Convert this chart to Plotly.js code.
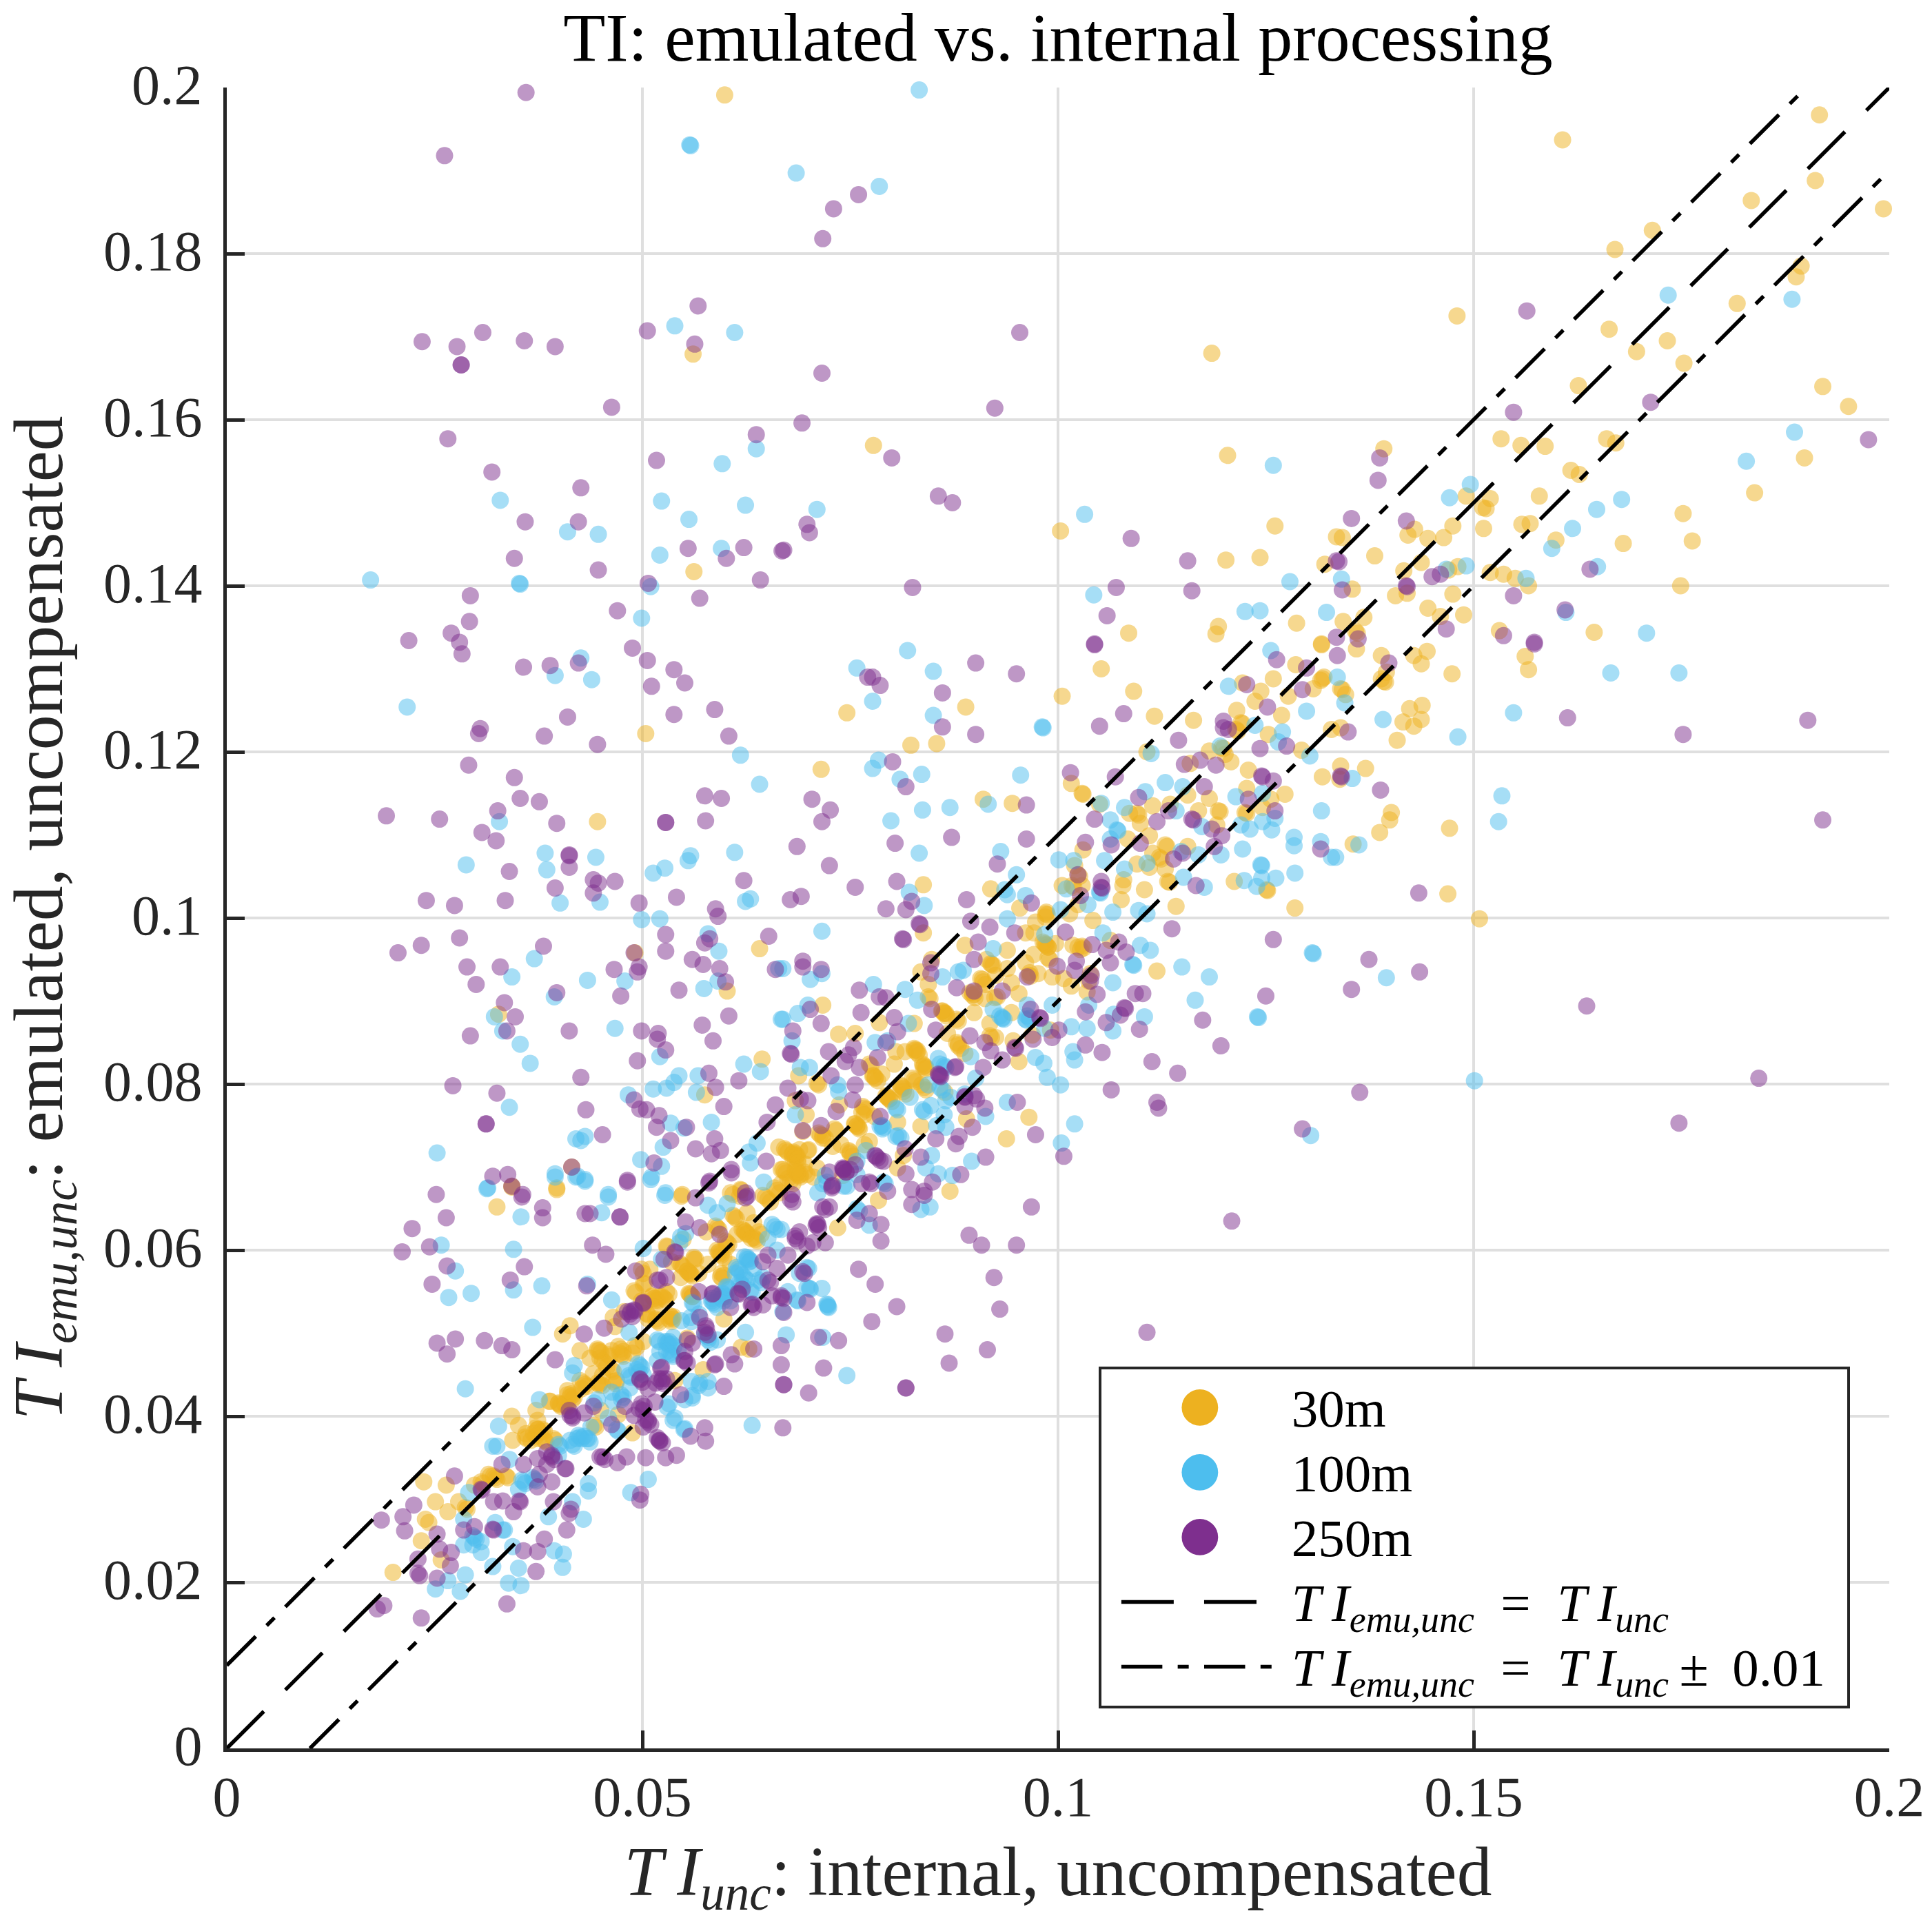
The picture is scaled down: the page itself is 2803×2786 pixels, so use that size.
<!DOCTYPE html>
<html>
<head>
<meta charset="utf-8">
<script src="https://cdn.plot.ly/plotly-3.0.1.min.js"></script>
<style>html,body{margin:0;padding:0;background:#fff}</style>
</head>
<body>
<div id="chart" style="width:2803px;height:2786px"></div>
<script>
const points30m = [
[.0599,.1991],[.0561,.1679],[.0562,.1417],[.0504,.1222],[.0446,.1116],[.0491,.0958],[.0641,.0963],[.0602,.0912],[.0327,.0884],[.0644,.0830],[.0575,.0787],[.0415,.0700],[.0343,.0677],[.0397,.0675],[.0548,.0667],[.0618,.0673],[.0606,.0669],[.0664,.0724],
[.1185,.1680],[.0778,.1569],[.1204,.1557],[.1003,.1466],[.1261,.1472],[.1202,.1431],[.1243,.1434],[.1321,.1426],[.1193,.1351],[.1190,.1342],[.1287,.1355],[.1085,.1343],[.1317,.1330],[.1335,.1459],
[.1607,.1937],[.1916,.1967],[.1911,.1888],[.1834,.1864],[.1993,.1854],[.1715,.1828],[.1670,.1805],[.1894,.1785],[.1888,.1772],[.1817,.1740],[.1480,.1725],[.1663,.1709],[.1733,.1695],[.1696,.1682],[.1753,.1668],[.1626,.1641],[.1920,.1640],[.1951,.1616],[.1533,.1577],[.1557,.1569],[.1586,.1568],[.1660,.1577],[.1671,.1572],[.1898,.1554],[.1617,.1539],[.1627,.1534],[.1392,.1565],[.1838,.1512],[.1579,.1508],[.1520,.1505],[.1491,.1508],[.1511,.1494],[.1515,.1493],[.1752,.1487],[.1558,.1474],[.1568,.1475],[.1475,.1472],[.1512,.1469],[.1763,.1454],[.1680,.1451],[.1599,.1455],[.1429,.1468],[.1421,.1461],[.1445,.1457],[.1464,.1458],[.1342,.1458],[.1381,.1436],[.1437,.1428],[.1416,.1418],[.1481,.1423],[.1470,.1419],[.1520,.1416],[.1536,.1414],[.1550,.1409],[.1566,.1400],[.1749,.1400],[.1354,.1396],[.1406,.1388],[.1420,.1391],[.1475,.1390],[.1445,.1373],[.1368,.1362],[.1343,.1357],[.1358,.1345],[.1360,.1343],[.1460,.1363],[.1488,.1365],[.1531,.1346],[.1645,.1344],
[.1359,.1324],[.1389,.1316],[.1428,.1316],[.1444,.1321],[.1437,.1306],[.1562,.1315],[.1566,.1299],[.1474,.1294],[.1395,.1296],[.1389,.1288],[.1392,.1285],[.1394,.1284],[.1340,.1276],[.1342,.1275],[.1346,.1269],[.1423,.1252],[.1438,.1256],[.1437,.1239],[.1415,.1236],[.1428,.1231],[.1408,.1214],[.1340,.1229],[.1340,.1183],[.1370,.1180],[.1339,.1167],[.1401,.1127],[.1399,.1118],[.1387,.1103],[.1471,.1108],[.1355,.1089],[.1469,.1029],[.1507,.0999],
[.1052,.1300],[.1091,.1273],[.1005,.1267],[.0746,.1247],[.0889,.1254],[.1116,.1243],[.1163,.1238],[.0823,.1208],[.0854,.1210],[.1317,.1329],[.1286,.1305],[.1318,.1288],[.1320,.1290],[.1316,.1286],[.1307,.1276],[.1259,.1288],[.1244,.1273],[.1222,.1283],[.1237,.1261],[.1277,.1267],[.1269,.1244],[.1215,.1250],[.1220,.1235],[.1222,.1234],[.1214,.1227],[.1216,.1225],[.1253,.1221],[.1197,.1205],[.1199,.1204],[.1182,.1201],[.1201,.1197],[.1208,.1188],[.1293,.1202],[.1159,.1186],[.1107,.1200],[.1229,.1178],[.1318,.1170],[.1329,.1227],[.0715,.1179],[.1016,.1162],[.1029,.1150],[.1030,.1149],[.0910,.1143],[.0945,.1138],[.1050,.1137],[.1156,.1148],[.1182,.1144],[.1227,.1156],[.1273,.1149],[.1256,.1143],[.1246,.1133],[.1225,.1127],[.1227,.1126],[.1193,.1129],[.1195,.1128],[.1169,.1129],[.1114,.1135],[.1135,.1137],[.1086,.1126],[.1095,.1126],[.1097,.1124],[.1099,.1114],[.1191,.1112],[.1110,.1099],[.1084,.1095],[.1030,.1082],[.1129,.1088],[.1131,.1086],[.1156,.1086],[.1114,.1078],[.1122,.1073],[.1124,.1071],[.1095,.1065],[.1110,.1061],[.1129,.1059],[.1132,.1044],[.1134,.1043],[.1212,.1044],[.1251,.1034],[.1252,.1033],[.1104,.1034],[.1079,.1046],[.1078,.1039],[.1076,.1022],[.1142,.1014],[.1285,.1012],[.1020,.1063],[.1024,.1052],[.1026,.1050],[.1005,.1039],[.1017,.1039],[.1019,.1037],[.1029,.1039],[.0838,.1040],[.0919,.1035],[.0954,.1012],[.0985,.1005],[.0987,.1004],[.0986,.1007],[.0973,.0995],[.1042,.0997],[.1014,.1005],[.1024,.1016],[.0838,.0982],[.0888,.0967],[.0939,.0961],[.0961,.0982],[.0971,.0982],[.0986,.0967],[.0988,.0965],[.0984,.0969],[.0997,.0969],[.1029,.0966],[.1031,.0964],[.1018,.0967],[.1063,.0973],[.1119,.0936],[.0971,.0956],[.0988,.0952],[.0990,.0950],[.0961,.0946],[.0920,.0944],[.0922,.0943],[.0939,.0939],[.0914,.0950],[.0965,.0931],[.0967,.0930],[.0976,.0933],[.0993,.0929],[.1007,.0927],[.1039,.0933],[.1016,.0918],[.1037,.0924],[.1035,.0911],[.0907,.0927],[.0909,.0926],[.0925,.0931],[.0944,.0922],[.0844,.0920],[.0835,.0935],[.0848,.0950],[.0844,.0905],[.0846,.0903],[.0897,.0910],[.0899,.0908],[.0912,.0903],[.0899,.0886],[.0927,.0905],[.0953,.0909],[.0944,.0886],[.0863,.0886],[.0865,.0885],[.0861,.0888],[.0878,.0878],[.0880,.0876],[.0717,.0895],[.0785,.0874],[.0827,.0873],[.0756,.0861],[.0736,.0860],[.0918,.0873],[.0918,.0858],[.0920,.0856],[.0829,.0841],[.0831,.0840],[.0827,.0843],[.0816,.0839],[.0805,.0839],[.0878,.0850],[.0880,.0848],[.0867,.0861],[.0925,.0856],[.0946,.0852],[.0969,.0859],[.0991,.0865],[.0888,.0837],[.0953,.0827],[.0839,.0822],[.0841,.0820],[.0837,.0824],[.0803,.0824],[.0773,.0824],[.0775,.0822],[.0778,.0810],[.0780,.0808],[.0788,.0812],[.0688,.0810],[.0710,.0801],[.0712,.0799],[.0827,.0805],[.0829,.0803],[.0825,.0807],[.0812,.0797],[.0814,.0795],[.0810,.0799],[.0795,.0784],[.0797,.0782],[.0793,.0786],[.0841,.0793],[.0864,.0790],[.0767,.0771],[.0769,.0769],[.0765,.0773],[.0758,.0750],[.0760,.0748],[.0756,.0752],[.0779,.0761],[.0737,.0775],[.0697,.0763],[.0684,.0780],[.0807,.0754],[.0835,.0749],[.0890,.0758],[.0965,.0760],[.0938,.0734],[.0731,.0746],[.0733,.0744],[.0712,.0741],[.0714,.0739],[.0693,.0743],[.0773,.0731],[.0748,.0720],[.0750,.0718],[.0729,.0725],[.0699,.0720],[.0684,.0716],[.0686,.0714],[.0682,.0718],[.0680,.0715],[.0673,.0720],[.0675,.0718],[.0671,.0722],[.0695,.0704],[.0671,.0695],[.0673,.0693],[.0669,.0697],[.0688,.0690],[.0690,.0688],[.0686,.0692],[.0807,.0699],[.0814,.0714],[.0870,.0671],[.0741,.0690],[.0710,.0699],
[.0735,.0627],[.0784,.0660],
[.0200,.0212],[.0234,.0250],[.0237,.0321],[.0264,.0317],[.0251,.0297],[.0266,.0285],[.0239,.0276],[.0243,.0272],[.0279,.0297],[.0287,.0290],[.0289,.0288],[.0258,.0227],[.0325,.0652],[.0343,.0676],[.0397,.0673],[.0404,.0499],[.0413,.0509],[.0465,.0519],[.0478,.0526],[.0467,.0508],[.0408,.0413],[.0410,.0411],[.0406,.0415],[.0399,.0416],[.0401,.0414],[.0416,.0425],[.0418,.0423],[.0414,.0427],[.0389,.0418],[.0372,.0407],[.0343,.0400],[.0351,.0389],[.0359,.0375],[.0361,.0373],[.0344,.0371],[.0372,.0386],[.0374,.0384],[.0380,.0384],[.0382,.0382],[.0382,.0371],[.0384,.0369],[.0393,.0373],[.0395,.0371],[.0315,.0330],[.0317,.0328],[.0323,.0326],[.0325,.0324],[.0321,.0328],[.0336,.0328],[.0338,.0326],[.0306,.0321],[.0308,.0319],[.0298,.0317],[.0425,.0479],[.0437,.0470],[.0448,.0479],[.0450,.0477],[.0446,.0481],[.0459,.0474],[.0461,.0472],[.0475,.0474],[.0477,.0472],[.0473,.0476],[.0491,.0485],[.0493,.0483],[.0501,.0490],[.0463,.0456],[.0465,.0454],[.0452,.0449],[.0446,.0440],[.0448,.0438],[.0431,.0438],[.0433,.0436],[.0429,.0440],[.0425,.0443],[.0469,.0443],[.0501,.0537],[.0503,.0535],[.0499,.0539],[.0514,.0542],[.0516,.0540],[.0512,.0544],[.0526,.0542],[.0528,.0540],[.0524,.0544],[.0535,.0519],[.0537,.0517],[.0533,.0521],[.0518,.0515],[.0520,.0513],[.0516,.0517],[.0505,.0524],[.0507,.0522],[.0490,.0551],[.0492,.0549],[.0503,.0560],[.0558,.0546],[.0560,.0544],[.0556,.0548],[.0556,.0573],[.0558,.0571],[.0554,.0575],[.0562,.0591],[.0564,.0589],[.0547,.0582],[.0549,.0580],[.0545,.0584],[.0535,.0586],[.0509,.0577],[.0499,.0577],[.0530,.0604],[.0592,.0598],[.0594,.0596],[.0590,.0600],[.0602,.0609],[.0604,.0607],[.0600,.0611],[.0611,.0640],[.0613,.0638],[.0609,.0642],[.0619,.0672],[.0609,.0667],[.0624,.0622],[.0626,.0620],[.0622,.0624],[.0636,.0613],[.0638,.0611],[.0634,.0615],[.0590,.0627],[.0592,.0625],[.0588,.0629],[.0577,.0622],[.0547,.0665],[.0617,.0665],[.0549,.0613],[.0594,.0568],[.0596,.0566],[.0626,.0645],[.0573,.0456],[.0628,.0481],[.0619,.0483],[.0488,.0380],[.0442,.0389],[.0444,.0387],[.0450,.0407],[.0471,.0402],[.0539,.0443],[.0598,.0517],[.0554,.0494],
[.0557,.0572],[.0560,.0569],[.0554,.0575],[.0595,.0594],[.0598,.0591],[.0592,.0597],[.0595,.0572],[.0598,.0570],[.0557,.0547],[.0560,.0544],[.0623,.0622],[.0626,.0619],[.0620,.0625],[.0640,.0622],[.0643,.0619],[.0634,.0633],[.0651,.0661],[.0654,.0658],[.0648,.0664],[.0662,.0672],[.0665,.0669],[.0659,.0675],[.0678,.0683],[.0681,.0680],[.0675,.0686],[.0684,.0708],[.0687,.0705],[.0681,.0711],[.0695,.0694],[.0698,.0691],[.0700,.0721],[.0750,.0716],[.0753,.0713],[.0767,.0727],[.0515,.0542],[.0518,.0539],[.0512,.0545],[.0529,.0550],[.0532,.0547],[.0507,.0517],[.0532,.0517],[.0535,.0514],[.0474,.0481],[.0477,.0478],[.0471,.0484],[.0452,.0467],[.0455,.0464],[.0449,.0470],[.0449,.0440],[.0452,.0437],[.0465,.0442],[.0468,.0439],[.0413,.0423],[.0416,.0420],[.0410,.0426],[.0399,.0415],[.0402,.0412],[.0374,.0384],[.0377,.0381],[.0372,.0376],[.0375,.0373],[.0369,.0379],[.0501,.0572],[.0501,.0559],
[.0814,.0791],[.0817,.0788],[.0811,.0794],[.0797,.0782],[.0800,.0779],[.0794,.0785],[.0836,.0799],[.0839,.0796],[.0830,.0838],[.0833,.0835],[.0827,.0841],[.0838,.0821],[.0841,.0818],[.0780,.0807],[.0783,.0804],[.0777,.0810],[.0758,.0749],[.0761,.0746],[.0755,.0752],[.0764,.0766],[.0767,.0763],[.0717,.0738],[.0720,.0735],[.0684,.0713],[.0687,.0710],[.0681,.0716],[.0687,.0694],[.0690,.0691],[.0684,.0697],[.0880,.0846],[.0883,.0843],[.0863,.0885],[.0866,.0882],[.0860,.0888],[.0897,.0907],[.0900,.0904],[.0894,.0910],[.0919,.0945],[.0910,.0923],[.0913,.0920],[.0985,.0968],[.0988,.0965],[.0982,.0971],[.1024,.0965],[.1027,.0962],[.0966,.0934],[.0924,.0904],[.0985,.1001],
[.0515,.0531],[.0521,.0544],[.0537,.0520],[.0546,.0567],[.0568,.0572],[.0562,.0589],[.0579,.0583],[.0601,.0603],[.0606,.0583],[.0614,.0619],[.0631,.0614],[.0645,.0666],[.0667,.0680],[.0684,.0694],[.0667,.0697],[.0689,.0721],[.0706,.0688],[.0739,.0727],[.0717,.0735],[.0488,.0476],[.0463,.0479],[.0446,.0479],[.0457,.0459],[.0441,.0451],[.0427,.0433],[.0410,.0431],[.0388,.0418],[.0366,.0371],[.0360,.0379],[.0374,.0395],[.0529,.0605]
];
const points100m = [
[.0557,.1931],[.0558,.1930],[.0539,.1713],[.0611,.1705],[.0596,.1547],[.0637,.1565],[.0329,.1503],[.0523,.1502],[.0624,.1497],[.0556,.1480],[.0410,.1465],[.0447,.1462],[.0521,.1437],[.0595,.1445],[.0173,.1407],[.0352,.1403],[.0353,.1402],[.0510,.1399],[.0499,.1361],
[.0426,.1313],[.0395,.1292],[.0439,.1287],[.0217,.1254],[.0641,.1161],[.0618,.1196],[.0328,.1116],[.0383,.1078],[.0444,.1073],[.0558,.1075],[.0555,.1069],[.0611,.1079],[.0288,.1064],[.0385,.1058],[.0527,.1060],[.0513,.1054],[.0401,.1018],[.0449,.1019],[.0624,.1020],[.0630,.1023],[.0499,.0998],[.0521,.0999],[.0579,.0981],[.0592,.0960],[.0370,.0951],[.0343,.0929],[.0434,.0925],[.0479,.0924],[.0591,.0924],[.0574,.0915],[.0664,.0939],[.0394,.0905],[.0322,.0881],[.0332,.0864],[.0467,.0867],[.0353,.0848],[.0365,.0825],[.0521,.0833],[.0622,.0824],[.0642,.0815],[.0667,.0878],[.0544,.0810],[.0567,.0810],[.0513,.0794],[.0529,.0795],[.0538,.0802],[.0565,.0790],[.0483,.0787],[.0340,.0772],[.0534,.0753],[.0583,.0754],[.0550,.0747],[.0431,.0737],[.0420,.0734],[.0426,.0732],[.0525,.0724],[.0638,.0729],[.0253,.0717],[.0498,.0709],[.0628,.0718],[.0630,.0705],[.0523,.0701],[.0395,.0692],[.0422,.0689],[.0431,.0685],[.0511,.0688],[.0314,.0675],[.0459,.0667],[.0528,.0669],[.0646,.0682],
[.0313,.0674],[.0395,.0688],[.0431,.0683],[.0420,.0688],[.0459,.0664],[.0354,.0640],[.0451,.0645],[.0258,.0606],[.0345,.0601],[.0275,.0575],[.0379,.0557],[.0267,.0543],[.0294,.0548],[.0345,.0552],[.0434,.0559],[.0463,.0540],[.0527,.0666],[.0510,.0685],[.0501,.0602],[.0368,.0507],[.0287,.0433],[.0376,.0420],[.0327,.0388],[.0320,.0364],[.0632,.0389],[.0507,.0324],[.0486,.0308],[.0435,.0319],[.0435,.0310],[.0429,.0276],[.0416,.0297],[.0387,.0279],[.0405,.0234],[.0394,.0238],[.0404,.0218],[.0351,.0217],[.0320,.0219],[.0339,.0199],[.0354,.0196],[.0287,.0209],[.0266,.0202],[.0251,.0192],[.0281,.0189],[.0344,.0243],[.0306,.0236],[.0296,.0245],[.0285,.0245],[.0334,.0263],[.0550,.0384],[.0539,.0398],[.0579,.0434],[.0569,.0440],[.0560,.0422],[.0530,.0411],
[.0530,.0488],[.0532,.0486],[.0528,.0490],[.0535,.0474],[.0537,.0472],[.0533,.0476],[.0518,.0492],[.0520,.0490],[.0497,.0461],[.0499,.0459],[.0495,.0463],[.0484,.0449],[.0486,.0447],[.0475,.0420],[.0463,.0429],[.0442,.0416],[.0459,.0398],[.0469,.0384],[.0471,.0382],[.0425,.0375],[.0427,.0373],[.0423,.0377],[.0416,.0366],[.0418,.0364],[.0437,.0369],[.0399,.0366],[.0401,.0364],[.0370,.0324],[.0372,.0322],[.0368,.0326],[.0357,.0321],[.0359,.0319],[.0355,.0323],[.0351,.0312],[.0399,.0353],[.0340,.0348],[.0325,.0364],[.0291,.0308],[.0285,.0276],[.0298,.0254],[.0300,.0252],[.0296,.0256],[.0306,.0249],[.0332,.0263],[.0323,.0272],[.0484,.0501],[.0418,.0461],[.0416,.0452],[.0543,.0479],[.0560,.0425],[.0577,.0497],[.0579,.0495],[.0575,.0499],[.0590,.0492],[.0585,.0537],[.0587,.0535],[.0583,.0539],[.0598,.0546],[.0600,.0544],[.0596,.0548],[.0615,.0577],[.0617,.0575],[.0613,.0579],[.0628,.0589],[.0630,.0587],[.0626,.0591],[.0602,.0555],[.0604,.0553],[.0619,.0559],[.0621,.0557],[.0617,.0561],[.0630,.0551],[.0632,.0549],[.0590,.0645],[.0602,.0656],[.0545,.0609],[.0552,.0620],[.0624,.0501],[.0579,.0654],[.0560,.0537],[.0562,.0535],[.0547,.0515],[.0558,.0519],
[.0819,.1322],[.0758,.1301],[.0850,.1297],[.0777,.1261],[.0850,.1244],[.0981,.1230],[.0982,.1229],[.1256,.1322],[.1205,.1279],[.1299,.1249],[.1237,.1232],[.1270,.1224],[.1265,.1212],[.1195,.1207],[.1112,.1198],[.1303,.1195],[.0784,.1190],[.0777,.1180],[.0836,.1173],[.0810,.1167],[.0955,.1172],[.1129,.1163],[.1150,.1158],[.1105,.1152],[.0916,.1137],[.0837,.1130],[.0870,.1133],[.0799,.1117],[.1052,.1138],[.1080,.1133],[.1063,.1118],[.1071,.1106],[.1072,.1105],[.1063,.1095],[.1246,.1150],[.1214,.1146],[.1317,.1129],[.1261,.1120],[.1246,.1116],[.1231,.1107],[.1257,.1106],[.1220,.1112],[.1173,.1110],[.1142,.1129],[.1284,.1097],[.1284,.1087],[.1316,.1092],[.1222,.1083],[.1196,.1076],[.1169,.1076],[.1148,.1080],[.1329,.1073],[.1244,.1064],[.1245,.1063],[.1285,.1054],[.1262,.1048],[.1239,.1038],[.1245,.1048],[.1224,.1045],[.1176,.1037],[.1151,.1049],[.1080,.1059],[.1107,.1066],[.1056,.1069],[.1019,.1069],[.1001,.1070],[.0833,.1078],[.0931,.1080],[.0939,.1028],[.0936,.1034],[.0950,.1052],[.0961,.1027],[.0821,.1031],[.0839,.1015],[.0716,.0984],[.1010,.1035],[.1003,.1010],[.1050,.1031],[.1051,.1030],[.1036,.1016],[.1066,.1007],[.1097,.1009],[.1107,.1005],[.0939,.0999],[.0984,.0980],[.1054,.0982],[.0922,.0963],[.1099,.0967],[.1111,.0961],[.1090,.0944],[.1091,.0943],[.1149,.0941],[.1182,.0929],[.1066,.0922],[.1165,.0901],[.1306,.0958],[.1307,.0957],[.1240,.0881],[.1241,.0880],[.1104,.0881],[.1067,.0884],[.1037,.0895],[.0993,.0895],[.0963,.0895],[.0961,.0878],[.0962,.0877],[.0933,.0880],[.0935,.0878],[.0922,.0890],[.1016,.0869],[.1035,.0867],[.1066,.0864],[.0984,.0867],[.1018,.0839],[.1020,.0829],[.0973,.0832],[.0983,.0825],[.0987,.0808],[.1003,.0799],[.0901,.0807],[.0939,.0778],[.0913,.0761],[.1020,.0752],[.1004,.0729],[.1304,.0738],[.0896,.0707],[.0856,.0692],[.0873,.0690],[.0865,.0748],[.0854,.0750],[.0816,.0914],[.0778,.0920],[.0861,.0929],[.0880,.0935],[.0886,.0937],[.0716,.0933],[.0702,.0926],[.0699,.0895],[.0687,.0885],[.0669,.0939],[.0669,.0878],[.0680,.0852],[.0690,.0820],[.0701,.0820],[.0780,.0850],[.0795,.0852],[.0820,.0873],[.0831,.0901],[.0856,.0831],[.0863,.0822],[.0865,.0820],[.0895,.0833],[.0844,.0799],[.0837,.0769],[.0839,.0767],[.0822,.0784],[.0805,.0771],[.0807,.0769],[.0788,.0750],[.0790,.0748],[.0805,.0737],[.0769,.0720],[.0758,.0707],[.0735,.0799],[.0684,.0763],[.0720,.0690],[.0746,.0677],[.0790,.0682],[.0792,.0680],[.0848,.0714],[.0841,.0699],[.0722,.0682],[.0871,.0784],[.0888,.0788],[.0865,.0780],[.0863,.0763],
[.0833,.1997],[.0685,.1897],[.0785,.1881],[.0710,.1492],[.1032,.1486],[.1259,.1545],[.1043,.1389],[.1279,.1405],[.1225,.1369],[.1243,.1370],[.1323,.1368],
[.1734,.1750],[.1883,.1745],[.1886,.1585],[.1828,.1550],[.1496,.1522],[.1471,.1506],[.1678,.1504],[.1648,.1492],[.1619,.1469],[.1594,.1445],[.1649,.1423],[.1467,.1420],[.1491,.1424],[.1563,.1409],[.1341,.1408],[.1611,.1368],[.1708,.1343],
[.1336,.1290],[.1345,.1259],[.1391,.1239],[.1481,.1218],[.1548,.1247],[.1665,.1295],[.1747,.1295],[.1354,.1168],[.1534,.1147],[.1530,.1116],[.1362,.1088],[.1334,.1073],[.1395,.0928],[.1501,.0804],
[.0846,.0652],[.0835,.0649],[.0722,.0535],[.0723,.0534],[.0717,.0495],[.0746,.0449],[.0716,.0554],[.0701,.0554],[.0702,.0553],[.0686,.0540],[.0673,.0498],[.0669,.0526],[.0773,.0630],[.0698,.0579],
[.0626,.0589],[.0629,.0586],[.0623,.0592],[.0623,.0567],[.0626,.0564],[.0620,.0570],[.0595,.0542],[.0598,.0539],[.0592,.0545],[.0659,.0628],[.0662,.0625],[.0656,.0631],[.0640,.0564],[.0643,.0561],[.0535,.0487],[.0538,.0484],[.0532,.0490],[.0521,.0478],[.0493,.0456],[.0496,.0453],[.0559,.0514],[.0579,.0492],[.0582,.0489],[.0687,.0539],[.0723,.0532],[.0724,.0531],[.0559,.0442],[.0579,.0442],[.0474,.0426],[.0477,.0423],[.0446,.0420],[.0430,.0376],[.0433,.0373],[.0413,.0371],[.0758,.0650],[.0761,.0647],[.0711,.0669],
[.0858,.0824],[.0858,.0796],[.0861,.0793],[.0847,.0774],[.0808,.0738],[.0811,.0735],[.0786,.0749],[.0789,.0746],[.0736,.0791],[.0930,.0882],[.0933,.0879],[.0963,.0882],[.0966,.0879],
[.0645,.0567],[.0612,.0572],[.0601,.0556],[.0634,.0578],[.0651,.0614],[.0667,.0625],[.0662,.0600],[.0584,.0542],[.0590,.0531],[.0606,.0539],[.0568,.0523],[.0537,.0495],[.0529,.0478],[.0518,.0467],[.0479,.0456],[.0501,.0450],[.0485,.0434],[.0465,.0418],[.0438,.0387],[.0421,.0373],[.0435,.0373],[.0568,.0437],[.0551,.0420],[.0532,.0415],[.0537,.0395],[.0551,.0385],[.0675,.0550],[.0698,.0555],[.0689,.0572],[.0700,.0578],[.0717,.0680],[.0742,.0677],[.0758,.0691],[.0546,.0616],[.0523,.0589]
];
const points250m = [
[.0360,.1994],[.0262,.1918],[.0235,.1694],[.0277,.1688],[.0282,.1666],[.0282,.1666],[.0308,.1705],[.0358,.1695],[.0395,.1688],[.0506,.1707],[.0567,.1737],[.0563,.1691],[.0463,.1615],[.0266,.1577],[.0637,.1582],[.0517,.1551],[.0319,.1537],[.0426,.1518],[.0359,.1477],[.0423,.1477],[.0346,.1433],[.0447,.1419],[.0555,.1445],[.0601,.1433],[.0622,.1446],[.0668,.1442],[.0507,.1403],[.0642,.1407],[.0293,.1388],[.0292,.1357],[.0270,.1343],[.0219,.1334],[.0280,.1332],[.0470,.1370],[.0569,.1385],[.0488,.1325],
[.0283,.1318],[.0357,.1302],[.0389,.1304],[.0423,.1307],[.0506,.1310],[.0538,.1299],[.0551,.1283],[.0511,.1279],[.0410,.1242],[.0587,.1251],[.0538,.1245],[.0604,.1219],[.0305,.1228],[.0303,.1222],[.0382,.1219],[.0446,.1209],[.0291,.1184],[.0346,.1169],[.0353,.1144],[.0376,.1140],[.0326,.1129],[.0192,.1123],[.0256,.1119],[.0397,.1114],[.0528,.1115],[.0528,.1115],[.0575,.1147],[.0595,.1144],[.0576,.1117],[.0307,.1103],[.0324,.1093],[.0412,.1076],[.0412,.1075],[.0412,.1061],[.0340,.1056],[.0441,.1046],[.0447,.1042],[.0467,.1044],[.0395,.1036],[.0441,.1030],[.0541,.1025],[.0622,.1045],[.0240,.1021],[.0274,.1015],[.0335,.1021],[.0496,.1018],[.0588,.1011],[.0591,.1002],[.0280,.0976],[.0234,.0967],[.0206,.0958],[.0381,.0966],[.0528,.0980],[.0528,.0960],[.0575,.0970],[.0581,.0975],[.0652,.0978],[.0289,.0941],[.0329,.0941],[.0466,.0938],[.0490,.0958],[.0496,.0941],[.0494,.0935],[.0560,.0950],[.0573,.0944],[.0593,.0939],[.0600,.0923],[.0660,.0938],[.0300,.0920],[.0544,.0913],[.0397,.0910],[.0474,.0906],[.0334,.0898],[.0347,.0881],[.0604,.0882],[.0572,.0871],[.0337,.0864],[.0293,.0858],[.0412,.0864],[.0499,.0864],[.0519,.0861],[.0518,.0854],[.0528,.0841],[.0585,.0852],[.0494,.0828],[.0426,.0808],[.0580,.0813],[.0616,.0804],[.0588,.0796],[.0272,.0798],[.0325,.0789],[.0490,.0781],[.0432,.0769],[.0497,.0770],[.0505,.0769],[.0520,.0762],[.0598,.0773],[.0660,.0775],[.0312,.0752],[.0312,.0752],[.0517,.0748],[.0553,.0748],[.0452,.0739],[.0534,.0732],[.0587,.0734],[.0564,.0722],[.0583,.0716],[.0594,.0720],[.0650,.0754],[.0514,.0705],[.0649,.0707],[.0607,.0697],[.0320,.0689],[.0338,.0691],[.0482,.0684],[.0581,.0683],[.0252,.0667],[.0356,.0667],[.0624,.0669],[.0415,.0700],[.0343,.0677],
[.0264,.0639],[.0223,.0626],[.0211,.0598],[.0244,.0604],[.0265,.0581],[.0247,.0559],[.0358,.0580],[.0341,.0564],[.0355,.0664],[.0380,.0651],[.0380,.0639],[.0482,.0682],[.0431,.0644],[.0437,.0644],[.0473,.0640],[.0473,.0640],[.0440,.0606],[.0456,.0595],[.0433,.0557],[.0430,.0499],[.0253,.0488],[.0275,.0493],[.0265,.0475],[.0310,.0491],[.0331,.0485],[.0343,.0480],[.0395,.0468],[.0454,.0506],[.0274,.0328],[.0225,.0293],[.0212,.0279],[.0186,.0275],[.0214,.0262],[.0253,.0258],[.0230,.0228],[.0230,.0211],[.0232,.0208],[.0253,.0205],[.0270,.0236],[.0269,.0220],[.0256,.0240],[.0181,.0168],[.0189,.0172],[.0234,.0157],[.0337,.0174],[.0357,.0238],[.0372,.0213],[.0374,.0237],[.0382,.0252],[.0409,.0263],[.0498,.0306],[.0497,.0299],[.0470,.0344],[.0481,.0351],[.0504,.0350],[.0528,.0350],[.0541,.0353],[.0558,.0376],[.0575,.0386],[.0576,.0370],[.0598,.0436],[.0611,.0463],[.0607,.0474],[.0634,.0481],[.0520,.0371],[.0521,.0370],[.0507,.0395],[.0449,.0351],[.0321,.0297],[.0352,.0298],[.0353,.0297],[.0345,.0285],[.0332,.0298],[.0320,.0264],[.0321,.0263],[.0298,.0267],[.0285,.0263],[.0306,.0312],[.0307,.0311],[.0331,.0342],[.0357,.0342],[.0376,.0330],[.0374,.0315],[.0391,.0321],[.0385,.0342],[.0391,.0353],[.0408,.0337],[.0393,.0297],[.0414,.0288],[.0412,.0283],[.0416,.0400],[.0412,.0407],[.0486,.0526],[.0475,.0517],[.0496,.0409],[.0501,.0407],[.0550,.0467],[.0522,.0458],[.0516,.0440],[.0524,.0445],[.0497,.0445],[.0552,.0634],[.0569,.0627],[.0564,.0663],[.0580,.0681],[.0607,.0693],[.0501,.0537],[.0632,.0535],[.0626,.0665],[.0575,.0501],[.0588,.0463],[.0539,.0598],[.0585,.0548],[.0569,.0519],[.0577,.0506],[.0615,.0548],[.0616,.0547],[.0490,.0528],[.0491,.0527],[.0518,.0564],[.0492,.0575],[.0560,.0488],
[.0901,.1307],[.0950,.1294],[.0771,.1290],[.0777,.1290],[.0786,.1280],[.0861,.1271],[.1044,.1329],[.0861,.1230],[.0901,.1221],[.1079,.1246],[.1050,.1231],[.1145,.1214],[.0801,.1188],[.1263,.1311],[.1299,.1301],[.1227,.1281],[.1252,.1254],[.1294,.1275],[.1199,.1237],[.1199,.1229],[.1205,.1227],[.1243,.1204],[.1275,.1207],[.1152,.1185],[.1171,.1190],[.1190,.1184],[.1015,.1175],[.1069,.1170],[.1245,.1171],[.1246,.1170],[.1259,.1165],[.1176,.1158],[.1097,.1145],[.1229,.1143],[.0817,.1158],[.0704,.1143],[.0726,.1130],[.0716,.1116],[.0962,.1136],[.0872,.1097],[.0804,.1090],[.0686,.1086],[.0725,.1063],[.0962,.1095],[.0927,.1065],[.1044,.1119],[.1033,.1091],[.1064,.1088],[.1099,.1090],[.1119,.1116],[.1133,.1129],[.1161,.1119],[.1163,.1118],[.1185,.1107],[.1197,.1099],[.1261,.1129],[.1188,.1086],[.1150,.1078],[.1139,.1071],[.1166,.1039],[.1316,.1083],[.0756,.1037],[.0806,.1044],[.0678,.1022],[.0691,.1026],[.0824,.1020],[.0793,.1011],[.0817,.1010],[.0890,.1022],[.0968,.1018],[.1052,.1044],[.1052,.1037],[.1053,.1036],[.1027,.1027],[.1024,.1052],[.0895,.0996],[.0918,.0989],[.0833,.0993],[.0834,.0992],[.0813,.0975],[.0814,.0974],[.0948,.0982],[.1009,.0983],[.0904,.0971],[.0899,.0950],[.1041,.0968],[.1073,.0971],[.1082,.0959],[.1058,.0961],[.1063,.0946],[.1022,.0948],[.1020,.0937],[.0999,.0942],[.1040,.0931],[.1039,.0924],[.1047,.0908],[.1093,.0909],[.1102,.0909],[.1137,.0987],[.1259,.0974],[.1250,.0906],[.1174,.0877],[.1098,.0866],[.1075,.0883],[.1080,.0892],[.1081,.0891],[.1058,.0874],[.1033,.0887],[.1033,.0847],[.1053,.0838],[.1113,.0827],[.1144,.0813],[.1196,.0846],[.1064,.0793],[.1119,.0778],[.1121,.0771],[.1294,.0746],[.0973,.0739],[.1007,.0713],[.0951,.0778],[.0897,.0748],[.0881,.0737],[.0877,.0728],[.0853,.0734],[.0913,.0712],[.0883,.0691],[.0849,.0682],[.0839,.0671],[.0824,.0673],[.0835,.0712],[.0817,.0692],[.0816,.0722],[.0693,.0948],[.0693,.0941],[.0715,.0938],[.0702,.0890],[.0715,.0873],[.0761,.0913],[.0785,.0905],[.0793,.0904],[.0763,.0886],[.0803,.0880],[.0878,.0916],[.0847,.0933],[.0847,.0946],[.0848,.0890],[.0899,.0912],[.0933,.0912],[.0963,.0929],[.0967,.0890],[.0978,.0880],[.0979,.0879],[.1001,.0865],[.0993,.0856],[.0970,.0854],[.0948,.0844],[.0949,.0843],[.0933,.0829],[.0910,.0820],[.0912,.0850],[.0919,.0840],[.0894,.0858],[.0853,.0865],[.0807,.0863],[.0793,.0850],[.0783,.0832],[.0761,.0820],[.0754,.0844],[.0748,.0835],[.0744,.0827],[.0724,.0839],[.0681,.0864],[.0678,.0837],[.0679,.0836],[.0727,.0810],[.0756,.0799],[.0753,.0781],[.0733,.0767],[.0675,.0795],[.0699,.0780],[.0690,.0782],[.0715,.0750],[.0693,.0744],[.0856,.0812],[.0857,.0811],[.0876,.0820],[.0888,.0784],[.0899,.0786],[.0888,.0773],[.0912,.0771],[.0780,.0714],[.0781,.0713],[.0790,.0707],[.0741,.0699],[.0742,.0698],[.0729,.0678],[.0756,.0703],[.0773,.0682],[.0795,.0671],[.0786,.0761],[.0680,.0667],
[.0760,.1871],[.0730,.1854],[.0717,.1818],[.0954,.1705],[.0716,.1656],[.0692,.1596],[.0924,.1614],[.0800,.1554],[.0856,.1508],[.0873,.1500],[.0698,.1474],[.0701,.1464],[.0670,.1443],[.0825,.1398],[.1088,.1457],[.1070,.1398],[.1156,.1430],[.1161,.1394],[.1059,.1364],[.1044,.1330],[.1335,.1430],[.1335,.1338],
[.1564,.1731],[.1548,.1609],[.1713,.1621],[.1387,.1554],[.1385,.1527],[.1353,.1481],[.1419,.1478],[.1338,.1429],[.1450,.1411],[.1460,.1414],[.1419,.1400],[.1420,.1399],[.1342,.1395],[.1975,.1576],[.1640,.1420],[.1548,.1388],[.1610,.1371],[.1467,.1348],[.1536,.1340],[.1573,.1332],[.1361,.1336],
[.1398,.1307],[.1573,.1330],[.1336,.1316],[.1349,.1224],[.1613,.1241],[.1752,.1221],[.1902,.1238],[.1340,.1171],[.1341,.1170],[.1388,.1154],[.1920,.1118],[.1434,.1030],[.1374,.0950],[.1435,.0935],[.1353,.0914],[.1636,.0894],[.1843,.0807],[.1363,.0790],[.1747,.0753],
[.0968,.0652],[.1209,.0635],[.0893,.0618],[.0908,.0606],[.0950,.0606],[.0787,.0611],[.0787,.0631],[.0773,.0644],[.0758,.0636],[.0760,.0577],[.0780,.0559],[.0923,.0567],[.0806,.0532],[.0930,.0529],[.0776,.0514],[.1107,.0501],[.0864,.0499],[.0712,.0495],[.0736,.0491],[.0915,.0480],[.0869,.0464],[.0718,.0458],[.0817,.0434],[.0817,.0434],[.0700,.0428],[.0670,.0438],[.0670,.0438],[.0669,.0386],[.0698,.0537],[.0720,.0609],[.0824,.0655],[.0839,.0666],[.0710,.0632],[.0711,.0631],[.0705,.0609],[.0684,.0617],[.0693,.0574],[.0667,.0485],[.0667,.0462],[.0667,.0543],
[.0678,.0661],[.0681,.0658],[.0717,.0652],[.0720,.0649],[.0742,.0697],[.0745,.0694],[.0728,.0675],[.0709,.0630],[.0712,.0627],[.0684,.0614],[.0687,.0611],[.0645,.0586],[.0651,.0564],[.0654,.0561],[.0667,.0545],[.0670,.0542],[.0631,.0534],[.0634,.0531],[.0670,.0525],[.0576,.0509],[.0554,.0492],[.0523,.0459],[.0523,.0442],[.0526,.0439],[.0520,.0445],[.0497,.0444],[.0500,.0441],[.0551,.0467],[.0554,.0464],[.0587,.0462],[.0499,.0415],[.0502,.0412],[.0507,.0393],[.0510,.0390],[.0504,.0396],[.0521,.0371],[.0524,.0368],[.0518,.0374],[.0485,.0523],[.0488,.0520],[.0482,.0526],[.0501,.0536],[.0540,.0597],[.0521,.0564],[.0413,.0401],[.0416,.0398],[.0430,.0404],[.0391,.0351],[.0394,.0348],[.0407,.0337],[.0452,.0351],[.0455,.0348],[.0624,.0663],[.0593,.0619],[.0546,.0426],
[.0858,.0810],[.0859,.0809],[.0877,.0821],[.0888,.0785],[.0902,.0782],[.0783,.0711],[.0786,.0708],[.0742,.0697],[.0745,.0694],[.0728,.0677],[.0775,.0680],
[.0662,.0578],[.0675,.0594],[.0695,.0572],[.0698,.0605],[.0651,.0594],[.0656,.0545],[.0645,.0534],[.0620,.0553],[.0606,.0531],[.0584,.0547],[.0568,.0550],[.0579,.0498],[.0551,.0478],[.0529,.0445],[.0507,.0433],[.0515,.0417],[.0479,.0412],[.0490,.0401],[.0463,.0390],[.0441,.0412],[.0385,.0357],[.0374,.0349],[.0501,.0387],[.0750,.0697],[.0764,.0680],[.0725,.0652],[.0689,.0622],[.0725,.0694],[.0526,.0589],[.0529,.0567]
];
const seriesNames = ['30m', '100m', '250m'];
const seriesColors = ['#EDB120', '#4DBEEE', '#7E2F8E'];
const identityX = [0, 0.2];
const identityY = [0, 0.2];
const upperX = [0, 0.19];
const upperY = [0.01, 0.2];
const lowerX = [0.01, 0.2];
const lowerY = [0, 0.19];
const xTicks = [0, 0.05, 0.1, 0.15, 0.2];
const xTickLabels = ['0', '0.05', '0.1', '0.15', '0.2'];
const yTicks = [0, 0.02, 0.04, 0.06, 0.08, 0.1, 0.12, 0.14, 0.16, 0.18, 0.2];
const yTickLabels = ['0', '0.02', '0.04', '0.06', '0.08', '0.1', '0.12', '0.14', '0.16', '0.18', '0.2'];

const FONT = '"Liberation Serif", serif';
const DASH_LONG = '76px,44.1px';
const DASH_DOT = '59.5px,22.3px,16px,22.35px';
const TI = 'T\u2009I';
const emu = '<i>' + TI + '<sub>emu,unc</sub></i>';
const unc = '<i>' + TI + '<sub>unc</sub></i>';

const traces = [points30m, points100m, points250m].map((p, i) => ({
  type: 'scatter', mode: 'markers', name: seriesNames[i],
  x: p.map(d => d[0]), y: p.map(d => d[1]), cliponaxis: false,
  marker: {size: 25, color: seriesColors[i], opacity: 0.5, line: {width: 0}}
}));
const lineStyle = d => ({color: '#000', width: 5.5, dash: d});
traces.push({type:'scatter', mode:'lines', name: emu + '\u2002=\u2002' + unc, x: identityX, y: identityY, line: lineStyle(DASH_LONG)});
traces.push({type:'scatter', mode:'lines', name: emu + '\u2002=\u2002' + unc + '\u2009± \u20090.01', x: upperX, y: upperY, legendgroup:'band', line: lineStyle(DASH_DOT)});
traces.push({type:'scatter', mode:'lines', showlegend:false, x: lowerX, y: lowerY, legendgroup:'band', line: lineStyle(DASH_DOT)});

const axisBase = {
  range: [0, 0.2], tickmode: 'array', ticks: 'inside', ticklen: 26, tickwidth: 5, tickcolor: '#262626',
  showline: true, linecolor: '#262626', linewidth: 5, mirror: false,
  showgrid: true, gridcolor: '#dfdfdf', gridwidth: 4, zeroline: false,
  tickfont: {family: FONT, size: 82, color: '#262626'}, automargin: false, fixedrange: true
};
const layout = {
  width: 2803, height: 2786, autosize: false,
  paper_bgcolor: '#fff', plot_bgcolor: '#fff',
  margin: {l: 328.5, r: 62, t: 127, b: 249, pad: 0},
  font: {family: FONT, color: '#000'},
  title: {text: 'TI: emulated vs. internal processing', font: {family: FONT, size: 100, color: '#000'},
          x: 0.5, xref: 'paper', xanchor: 'center', y: 0.981, yref: 'container', yanchor: 'middle'},
  xaxis: Object.assign({}, axisBase, {tickvals: xTicks, ticktext: xTickLabels, ticklabelstandoff: -5,
    title: {text: '<i>' + TI + '<sub>unc</sub></i>: internal, uncompensated', font: {family: FONT, size: 101.5, color: '#262626'}, standoff: 38}}),
  yaxis: Object.assign({}, axisBase, {tickvals: yTicks, ticktext: yTickLabels, ticklabelstandoff: 14, ticklabelshift: -5,
    title: {text: '<i>' + TI + '<sub>emu,unc</sub></i>: emulated, uncompensated', font: {family: FONT, size: 101.5, color: '#262626'}, standoff: 30}}),
  showlegend: true,
  legend: {
    x: 0.5244, y: 0.2297, xanchor: 'left', yanchor: 'top', xref: 'paper', yref: 'paper',
    bgcolor: '#fff', bordercolor: '#262626', borderwidth: 4,
    font: {family: FONT, size: 70, color: '#000'}, itemwidth: 266, itemsizing: 'trace',
    entrywidth: 800, entrywidthmode: 'pixels', tracegroupgap: 0, itemclick: false, itemdoubleclick: false
  }
};

Plotly.newPlot('chart', traces, layout, {staticPlot: true, displayModeBar: false}).then(gd => {
  const root = gd.querySelector('.legend');
  if (!root) return;
  // Legend keys: the library caps their size, the reference keeps large opaque dots and short inset lines.
  root.querySelectorAll('.legendpoints path.scatterpts').forEach(p => {
    p.setAttribute('transform', 'translate(143,0) scale(3.3)');
    p.style.opacity = 1;
  });
  root.querySelectorAll('.legendlines path').forEach(p => {
    p.setAttribute('d', 'M29,0h219');
  });
  root.querySelectorAll('.legendtext').forEach(t => { t.style.fontSize = '77px'; });
  const bg = root.querySelector('rect.bg');
  if (bg) { bg.setAttribute('width', 1086); bg.setAttribute('height', 492); }
  const box = root.querySelector('.scrollbox');
  if (box) { box.setAttribute('transform', 'translate(0,3)'); box.removeAttribute('clip-path'); box.style.clipPath = 'none'; }
});
</script>
</body>
</html>
